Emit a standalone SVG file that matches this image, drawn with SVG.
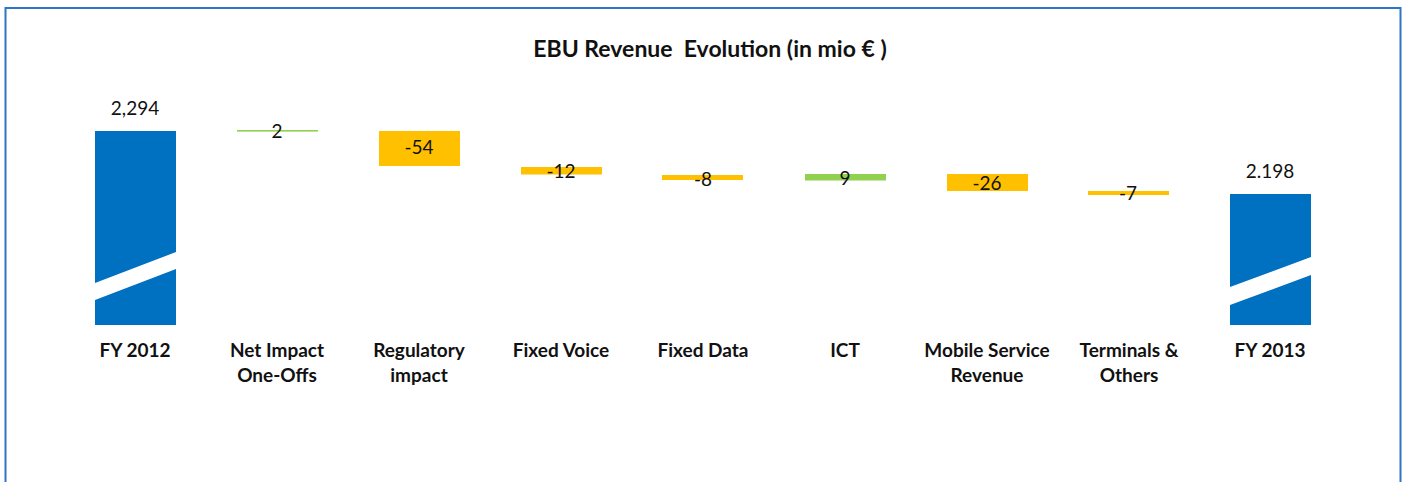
<svg xmlns="http://www.w3.org/2000/svg" width="1405" height="482" viewBox="0 0 1405 482">
  <style>
    .title { font-family: Lato, "Liberation Sans", sans-serif; font-weight: 700; font-size: 23px; fill: #111; text-anchor: middle; white-space: pre; }
    .cat { font-family: Lato, "Liberation Sans", sans-serif; font-weight: 700; font-size: 19px; fill: #111; text-anchor: middle; }
    .val { font-family: Lato, "Liberation Sans", sans-serif; font-weight: 400; font-size: 19px; fill: #111; text-anchor: middle; }
    .total { fill: #0070C0; }
    .down { fill: #FFC000; }
    .up { fill: #92D050; }
    .gap { fill: #ffffff; }
  </style>

  <rect x="0" y="0" width="1405" height="482" fill="#ffffff"/>
  <!-- chart frame -->
  <rect x="5.5" y="8" width="1395" height="490" fill="none" stroke="#2E75C6" stroke-width="2"/>

  <text class="title" x="710" y="57" xml:space="preserve">EBU Revenue  Evolution (in mio € )</text>

  <!-- opening total with axis break -->
  <g id="fy2012">
    <rect class="total" x="95" y="131" width="81" height="194"/>
    <polygon class="gap" points="95,283 176,252 176,269 95,300"/>
    <text class="val" x="135" y="115">2,294</text>
    <text class="cat" x="135" y="357">FY 2012</text>
  </g>

  <g id="net-impact">
    <rect class="up" x="237" y="130" width="81" height="1.6"/>
    <text class="val" x="277" y="138">2</text>
    <text class="cat" x="277" y="357">Net Impact</text>
    <text class="cat" x="277" y="382">One-Offs</text>
  </g>

  <g id="regulatory">
    <rect class="down" x="379" y="131" width="81" height="35"/>
    <text class="val" x="419" y="154">-54</text>
    <text class="cat" x="419" y="357">Regulatory</text>
    <text class="cat" x="419" y="382">impact</text>
  </g>

  <g id="fixed-voice">
    <rect class="down" x="521" y="167" width="81" height="7.5"/>
    <text class="val" x="561" y="178">-12</text>
    <text class="cat" x="561" y="357">Fixed Voice</text>
  </g>

  <g id="fixed-data">
    <rect class="down" x="662" y="175" width="81" height="5"/>
    <text class="val" x="703" y="186">-8</text>
    <text class="cat" x="703" y="357">Fixed Data</text>
  </g>

  <g id="ict">
    <rect class="up" x="805" y="174" width="81" height="6.5"/>
    <text class="val" x="845" y="185">9</text>
    <text class="cat" x="845" y="357">ICT</text>
  </g>

  <g id="mobile-service">
    <rect class="down" x="947" y="174" width="81" height="17"/>
    <text class="val" x="987" y="190">-26</text>
    <text class="cat" x="987" y="357">Mobile Service</text>
    <text class="cat" x="987" y="382">Revenue</text>
  </g>

  <g id="terminals">
    <rect class="down" x="1088" y="191" width="81" height="4"/>
    <text class="val" x="1128" y="200">-7</text>
    <text class="cat" x="1129" y="357">Terminals &amp;</text>
    <text class="cat" x="1129" y="382">Others</text>
  </g>

  <!-- closing total with axis break -->
  <g id="fy2013">
    <rect class="total" x="1230" y="194" width="81" height="131"/>
    <polygon class="gap" points="1230,287 1311,257 1311,275 1230,305"/>
    <text class="val" x="1270" y="178">2.198</text>
    <text class="cat" x="1270" y="357">FY 2013</text>
  </g>
</svg>
